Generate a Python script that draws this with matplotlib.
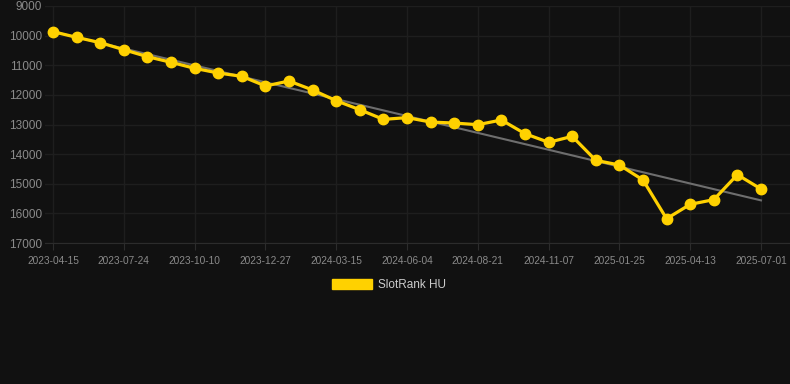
import matplotlib
matplotlib.use('Agg')
import matplotlib.pyplot as plt
from matplotlib.patches import Patch
import numpy as np

plt.rcParams['font.family'] = ['Liberation Sans', 'DejaVu Sans']

dates = [
    "2023-04-15", "2023-05-18", "2023-06-20", "2023-07-24", "2023-08-19",
    "2023-09-14", "2023-10-10", "2023-11-05", "2023-12-01", "2023-12-27",
    "2024-01-22", "2024-02-18", "2024-03-15", "2024-04-11", "2024-05-08",
    "2024-06-04", "2024-06-30", "2024-07-26", "2024-08-21", "2024-09-16",
    "2024-10-12", "2024-11-07", "2024-12-03", "2024-12-29", "2025-01-25",
    "2025-02-20", "2025-03-18", "2025-04-13", "2025-05-09", "2025-06-05",
    "2025-07-01",
]
ranks = [
    9867, 10058, 10238, 10475, 10711, 10900, 11103, 11262, 11374, 11700,
    11532, 11835, 12197, 12501, 12827, 12768, 12917, 12951, 13006, 12848,
    13310, 13602, 13400, 14210, 14367, 14873, 16180, 15695, 15537, 14694,
    15177,
]
series_name = "SlotRank HU"
y_ticks = [9000, 10000, 11000, 12000, 13000, 14000, 15000, 16000, 17000]

bg = '#111111'
gold = '#FFD100'

fig = plt.figure(figsize=(7.9, 3.84), dpi=100, facecolor=bg)
ax = fig.add_axes([45 / 790, 1 - 243 / 384, 1 - 45 / 790, (243 - 6) / 384])
ax.set_facecolor(bg)

x = np.arange(len(dates))

# trend line (least squares)
k, b = np.polyfit(x, ranks, 1)
ax.plot(x, k * x + b, color='#6e6e6e', lw=1.5, zorder=2)

ax.plot(x, ranks, color=gold, lw=2.3, marker='o', markersize=7.5,
        markerfacecolor=gold, markeredgecolor=gold, zorder=3)

ax.set_xlim(-0.34, 31.23)
ax.set_ylim(17000, 9000)
ax.set_yticks(y_ticks)
ax.set_yticklabels([str(v) for v in y_ticks])
ax.set_xticks(x[::3])
ax.set_xticklabels(dates[::3])

ax.grid(True, color='#1e1e1e', lw=1)
ax.set_axisbelow(True)
for s in ['top', 'right', 'left']:
    ax.spines[s].set_visible(False)
ax.spines['bottom'].set_color('#2c2c2c')

ax.tick_params(axis='y', length=0, pad=2, labelsize=8.5, labelcolor='#8a8a8a')
ax.tick_params(axis='x', length=5, color='#2c2c2c', pad=4, labelsize=7.3,
               labelcolor='#8a8a8a')

fig.legend(handles=[Patch(facecolor=gold, edgecolor=gold, label=series_name)],
           loc='center', bbox_to_anchor=(389 / 790, 1 - 285 / 384),
           frameon=False, fontsize=8.5, labelcolor='#cccccc',
           handlelength=3.4, handleheight=1.0, handletextpad=0.5)

fig.savefig('out.png', dpi=100, facecolor=bg)
